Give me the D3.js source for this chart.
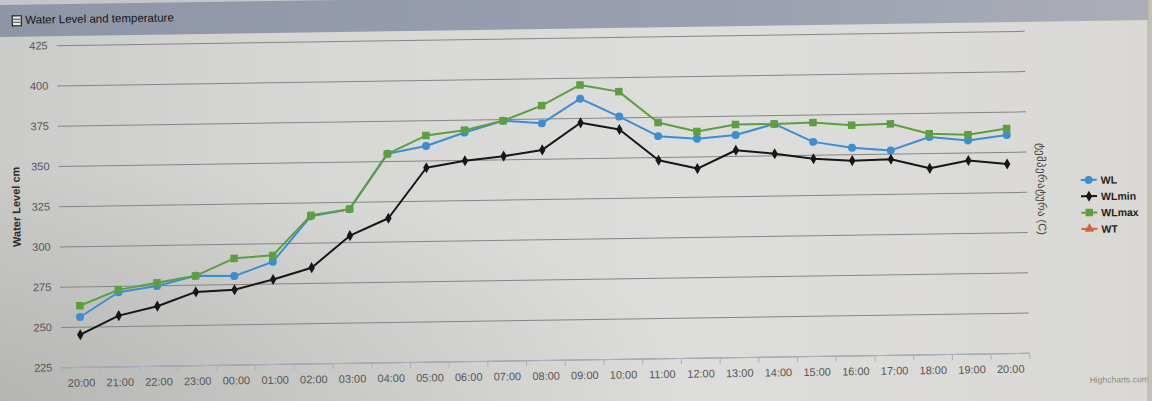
<!DOCTYPE html>
<html>
<head>
<meta charset="utf-8">
<script src="https://cdn.jsdelivr.net/npm/d3@7"></script>
<style>
  html, body { margin: 0; padding: 0; background: #d6d6d4; }
  svg { display: block; }
  text { font-family: "Liberation Sans", Arial, sans-serif; }
</style>
</head>
<body>
<svg id="chart" width="1152" height="401"></svg>
<script>
// ---- data ----
const categories = ["20:00","21:00","22:00","23:00","00:00","01:00","02:00","03:00","04:00","05:00",
  "06:00","07:00","08:00","09:00","10:00","11:00","12:00","13:00","14:00","15:00",
  "16:00","17:00","18:00","19:00","20:00"];
const WL    = [256, 271, 274.5, 280.5, 280, 288.5, 316.5, 320.5, 354.5, 359, 367, 374, 372, 387, 375.5, 363, 361, 363, 369.5, 358, 354, 352, 360, 357.5, 360.5];
const WLmin = [245, 256.5, 262, 270.5, 271.5, 277.5, 284.5, 304, 314.5, 345.5, 349.5, 352, 355.5, 372, 367.5, 348, 342.5, 353.5, 351, 347.5, 346, 346.5, 340.5, 345, 342.5];
const WLmax = [263, 272.5, 276.5, 280.5, 291, 292.5, 317, 320.5, 354.5, 365.5, 368.5, 374, 383, 395.5, 391, 371.5, 365.5, 369.5, 369.5, 370, 368, 368.5, 362, 361, 364.5];
const WT    = [];
const yTicks = [225, 250, 275, 300, 325, 350, 375, 400, 425];
const seriesNames = ["WL", "WLmin", "WLmax", "WT"];
const chartTitle = "Water Level and temperature";
const yTitle = "Water Level cm";
const y2Title = "ტემპერატურა (C)";
const credit = "Highcharts.com";

// ---- styles ----
const colors = { WL: "#3a8ed4", WLmin: "#161616", WLmax: "#5c9f3c", WT: "#d2643c" };
const symbols = { WL: d3.symbolCircle, WLmin: d3.symbolDiamond, WLmax: d3.symbolSquare, WT: d3.symbolTriangle };
const symSize = { WL: 50, WLmin: 36, WLmax: 56, WT: 40 };

const svg = d3.select("#chart");
const W = 1152, H = 401;

// photo-like background
const defs = svg.append("defs");
const bg = defs.append("linearGradient").attr("id", "bg").attr("x1", 0).attr("x2", 1).attr("y1", 0).attr("y2", 0);
bg.append("stop").attr("offset", "0").attr("stop-color", "#cbcbc9");
bg.append("stop").attr("offset", "0.25").attr("stop-color", "#d6d6d4");
bg.append("stop").attr("offset", "0.6").attr("stop-color", "#dddddb");
bg.append("stop").attr("offset", "1").attr("stop-color", "#d9d8d5");
const shade = defs.append("radialGradient").attr("id", "shade").attr("cx", 0.0).attr("cy", 1.0).attr("r", 0.6);
shade.append("stop").attr("offset", "0").attr("stop-color", "#9a9a98").attr("stop-opacity", 0.45);
shade.append("stop").attr("offset", "1").attr("stop-color", "#9a9a98").attr("stop-opacity", 0);
const band = defs.append("linearGradient").attr("id", "band").attr("x1", 0).attr("x2", 1).attr("y1", 0).attr("y2", 0);
band.append("stop").attr("offset", "0").attr("stop-color", "#8d94a6");
band.append("stop").attr("offset", "0.6").attr("stop-color", "#9aa0b0");
band.append("stop").attr("offset", "1").attr("stop-color", "#b0b2b9");

svg.append("rect").attr("width", W).attr("height", H).attr("fill", "url(#bg)");
svg.append("rect").attr("width", W).attr("height", H).attr("fill", "url(#shade)");
svg.append("rect").attr("x", 0).attr("y", 0).attr("width", W).attr("height", 12).attr("fill", "#c4c6cb");

// tilted frame like the photo
const g = svg.append("g").attr("transform", "rotate(-0.85 545 200)");

// header band
g.append("rect").attr("x", -60).attr("y", -3).attr("width", 1320).attr("height", 32).attr("fill", "url(#band)");
const icon = g.append("g").attr("transform", "translate(15,8)");
icon.append("rect").attr("width", 9).attr("height", 10).attr("fill", "#e8e8ea").attr("stroke", "#222").attr("stroke-width", 1.2);
icon.append("line").attr("x1", 1).attr("x2", 8).attr("y1", 3.5).attr("y2", 3.5).attr("stroke", "#444");
icon.append("line").attr("x1", 1).attr("x2", 8).attr("y1", 6.5).attr("y2", 6.5).attr("stroke", "#444");
g.append("text").attr("x", 28).attr("y", 16).attr("font-size", 11.5).attr("fill", "#151515").text(chartTitle);

// scales
const plot = { left: 59, right: 1027, top: 38, bottom: 360 };
const x = d3.scaleLinear().domain([-0.5, categories.length - 0.5]).range([plot.left, plot.right]);
const y = d3.scaleLinear().domain([225, 425]).range([plot.bottom, plot.top]);

// grid
const grid = g.append("g").attr("transform", `translate(${plot.left},0)`)
  .call(d3.axisLeft(y).tickValues(yTicks).tickSize(-(plot.right - plot.left)).tickFormat(""));
grid.select(".domain").remove();
grid.selectAll(".tick line").attr("stroke", "#858585").attr("stroke-width", 1);

// y labels
const yAx = g.append("g").attr("transform", `translate(${plot.left - 9},0)`)
  .call(d3.axisLeft(y).tickValues(yTicks).tickSize(0).tickPadding(0));
yAx.select(".domain").remove();
yAx.selectAll("text").attr("font-size", 11).attr("fill", "#555").attr("font-family", "Liberation Sans, Arial, sans-serif");

// x axis line + ticks (between categories)
const boundaries = d3.range(categories.length + 1).map(i => i - 0.5);
const xTicks = g.append("g").attr("transform", `translate(0,${plot.bottom})`)
  .call(d3.axisBottom(x).tickValues(boundaries).tickSize(6).tickSizeOuter(0).tickFormat(""));
xTicks.select(".domain").attr("stroke", "#a9b2bf");
xTicks.selectAll(".tick line").attr("stroke", "#a9b2bf");

// x labels
const xAx = g.append("g").attr("transform", `translate(0,${plot.bottom})`)
  .call(d3.axisBottom(x).tickValues(d3.range(categories.length)).tickSize(0).tickPadding(12)
    .tickFormat(i => categories[i]));
xAx.select(".domain").remove();
xAx.selectAll("text").attr("font-size", 11).attr("fill", "#555").attr("font-family", "Liberation Sans, Arial, sans-serif");

// axis titles
g.append("text").attr("transform", `translate(20,${(plot.top + plot.bottom) / 2}) rotate(-90)`)
  .attr("text-anchor", "middle").attr("font-size", 11).attr("font-weight", "bold").attr("fill", "#2a2a2a").text(yTitle);
g.append("text").attr("transform", `translate(1038,${(plot.top + plot.bottom) / 2 - 3}) rotate(90)`)
  .attr("text-anchor", "middle").attr("font-size", 11).attr("fill", "#444")
  .attr("font-family", "DejaVu Sans, sans-serif").text(y2Title);

// series
const seriesData = { WL, WLmin, WLmax, WT };
const line = d3.line().x((d, i) => x(i)).y(d => y(d));
seriesNames.forEach(name => {
  const data = seriesData[name];
  const sg = g.append("g");
  if (data.length) {
    sg.append("path").datum(data).attr("d", line).attr("fill", "none")
      .attr("stroke", colors[name]).attr("stroke-width", 2).attr("stroke-linejoin", "round");
    sg.selectAll("path.m").data(data).join("path").attr("class", "m")
      .attr("transform", (d, i) => `translate(${x(i)},${y(d)})`)
      .attr("d", d3.symbol().type(symbols[name]).size(symSize[name]))
      .attr("fill", colors[name]);
  }
});

// legend
const legend = g.append("g").attr("transform", "translate(1081,188)");
seriesNames.forEach((name, i) => {
  const li = legend.append("g").attr("transform", `translate(0,${i * 16.3})`);
  li.append("line").attr("x1", 0).attr("x2", 16).attr("y1", 0).attr("y2", 0)
    .attr("stroke", colors[name]).attr("stroke-width", 2);
  li.append("path").attr("transform", "translate(8,0)")
    .attr("d", d3.symbol().type(symbols[name]).size(symSize[name])).attr("fill", colors[name]);
  li.append("text").attr("x", 20).attr("y", 4).attr("font-size", 10.5).attr("font-weight", "bold")
    .attr("fill", "#222").text(name);
});

// credit
g.append("text").attr("x", 1146).attr("y", 391).attr("text-anchor", "end").attr("font-size", 8.5)
  .attr("fill", "#8a8a8a").text(credit);

// right bezel strip
svg.append("rect").attr("x", 1148).attr("y", 0).attr("width", 4).attr("height", H).attr("fill", "#c6c1b8");
svg.append("line").attr("x1", 1148).attr("x2", 1148).attr("y1", 0).attr("y2", H).attr("stroke", "#b4b0a8");
</script>
</body>
</html>
